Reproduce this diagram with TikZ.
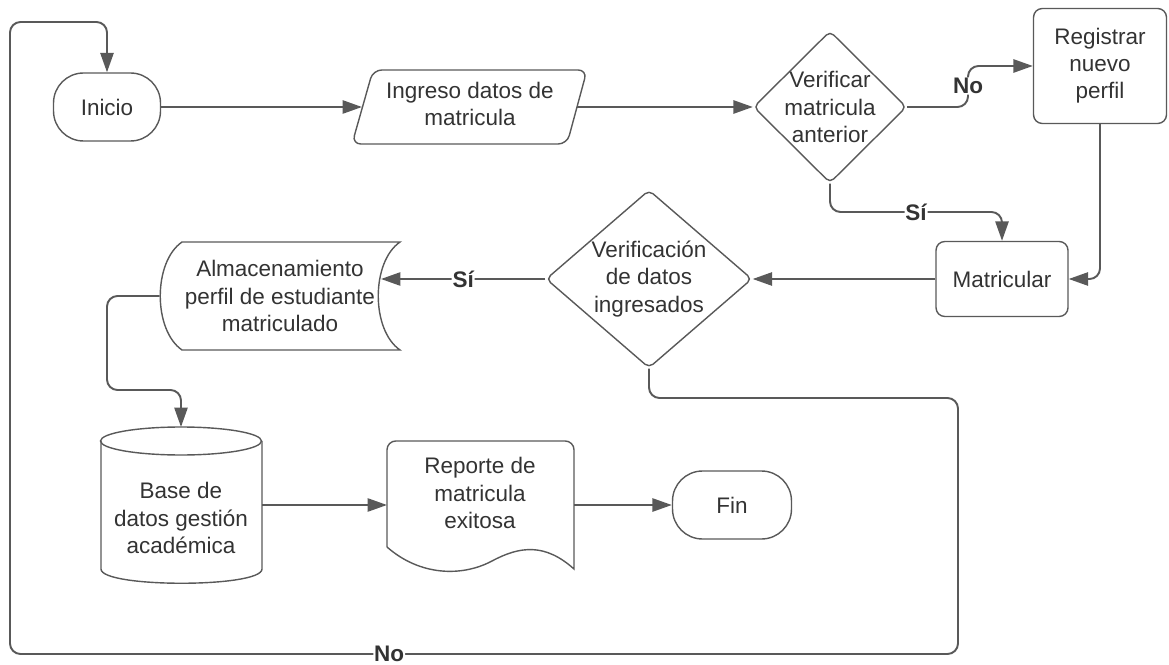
\documentclass[tikz,border=0pt]{standalone}
\usepackage{fontspec}
\setmainfont{Liberation Sans}
\usetikzlibrary{shapes.geometric,arrows.meta}

\definecolor{linegray}{HTML}{595959}
\definecolor{textgray}{HTML}{333333}

\begin{document}
\begin{tikzpicture}[x=0.02cm, y=-0.02cm,
    every node/.style={font=\fontsize{12.8}{15.4}\selectfont, text=textgray, align=center},
    outline/.style={draw=linegray, line width=0.8pt},
    term/.style={outline, rounded corners=0.6cm, minimum width=2.14cm, minimum height=1.36cm},
    proc/.style={outline, rounded corners=5pt, inner sep=2pt},
    decision/.style={outline, diamond, aspect=1, inner sep=-6pt, rounded corners=3pt},
    conn/.style={draw=linegray, line width=1.1pt, rounded corners=6pt, -{Triangle[length=11pt, width=7.5pt]}},
    lbl/.style={font=\fontsize{12.8}{15.4}\selectfont\bfseries, fill=white, inner sep=0.5pt}
]
    \useasboundingbox (0,0) rectangle (1169,665);

    % Nodes
    \node[term] (inicio) at (107,107) {Inicio};
    \node (ingreso) at (470,104) {Ingreso datos de\\matricula};
    \node[decision, minimum width=3.06cm, minimum height=3.04cm] (verif) at (830,107) {Verificar\\matricula\\anterior};
    \node[proc, minimum width=2.66cm, minimum height=2.3cm] (registrar) at (1100,66) {Registrar\\nuevo\\perfil};
    \node[proc, minimum width=2.64cm, minimum height=1.5cm] (matricular) at (1002,279) {Matricular};
    \node[decision, minimum width=4.12cm, minimum height=3.56cm] (verifdatos) at (649,279) {Verificación\\de datos\\ingresados};
    \node[minimum width=4.8cm] (almac) at (280,296) {Almacenamiento\\perfil de estudiante\\matriculado};
    \node (basedatos) at (181,518) {Base de\\datos gestión\\académica};
    \node (reporte) at (480,493) {Reporte de\\matricula\\exitosa};
    \node[term, minimum width=2.38cm] (fin) at (732,505) {Fin};

    % Ends of the drawn shapes
    \coordinate (ingin) at (362,107);
    \coordinate (ingout) at (577,107);
    \coordinate (almin) at (381,279);
    \coordinate (bdtop) at (181,427);
    \coordinate (bdout) at (262,505);
    \coordinate (repin) at (387,505);
    \coordinate (repout) at (574,505);

    % Data input
    \draw[outline, rounded corners=5pt] (373,70) -- (587,70) -- (567,144) -- (352,144) -- cycle;
    % Stored data
    \draw[outline] (182,242) -- (400,242) .. controls (371,262) and (371,330) .. (400,350)
        -- (182,350) .. controls (153,330) and (153,262) .. (182,242) -- cycle;
    % Database
    \draw[outline] (181,441) ellipse [x radius=1.61cm, y radius=0.28cm];
    \draw[outline] (101,441) -- (101,569) .. controls (101,588) and (262,588) .. (262,569) -- (262,441);
    % Document
    \draw[outline] (387,547) [rounded corners=5pt] -- (387,441) -- (574,441) [sharp corners] -- (574,569)
        .. controls (545,543) and (520,546) .. (492,561) .. controls (462,577) and (420,576) .. (387,547);

    % Connectors
    \draw[conn] (inicio.east) -- (ingin);
    \draw[conn] (ingout) -- (verif.west);
    \draw[conn] (verif.east) -| (968,86) node[lbl] {No} |- (registrar.west);
    \draw[conn] (verif.south) -- (830,212) -- node[lbl] {Sí} (1002,212) -- (matricular.north);
    \draw[conn] (registrar.south) |- (matricular.east);
    \draw[conn] (matricular.west) -- (verifdatos.east);
    \draw[conn] (verifdatos.west) -- node[lbl] {Sí} (almin);
    \draw[conn] (almac.west) -- (107,296) -- (107,390) -- (181,390) -- (bdtop);
    \draw[conn] (bdout) -- (repin);
    \draw[conn] (repout) -- (fin.west);

    % Loop back
    \draw[conn] (verifdatos.south) -- (649,398) -- (958,398) -- (958,654)
        -- node[lbl, pos=0.6] {No} (10,654) -- (10,22) -- (107,22) -- (inicio.north);
\end{tikzpicture}
\end{document}
